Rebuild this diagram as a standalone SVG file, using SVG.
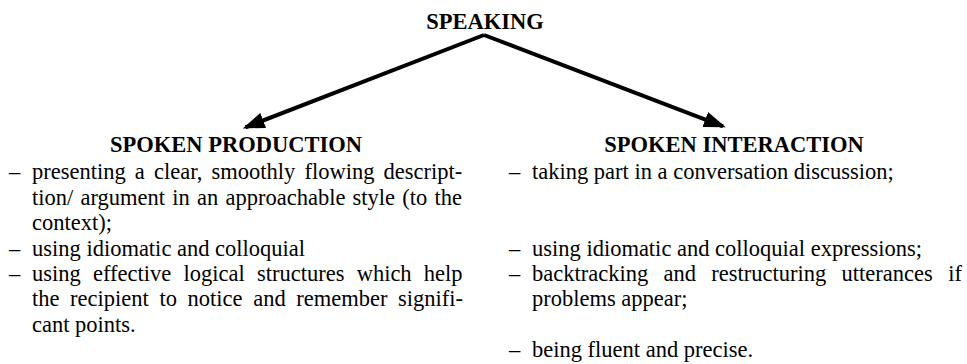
<svg xmlns="http://www.w3.org/2000/svg" width="967" height="364" viewBox="0 0 967 364">
<style>
text{font-family:"Liberation Serif","Times New Roman",serif;font-size:22.5px;fill:#000}
.h{font-weight:bold;text-anchor:middle}
.c{stroke:#000;stroke-width:4;fill:none}
</style>
<defs>
<marker id="arr" markerUnits="userSpaceOnUse" markerWidth="22" markerHeight="16" viewBox="0 0 22 16" refX="19" refY="8" orient="auto">
<path d="M0,0 L22,8 L0,16 Z" fill="#000"/>
</marker>
</defs>
<rect width="967" height="364" fill="#fff"/>
<g id="connectors">
<path class="c" d="M484,35 L245.5,127.3" marker-end="url(#arr)"/>
<path class="c" d="M484,35 L723,126.3" marker-end="url(#arr)"/>
</g>
<g id="speaking">
<text class="h" x="485" y="29">SPEAKING</text>
</g>
<g id="spoken-production">
<text class="h" x="236" y="152">SPOKEN PRODUCTION</text>
<text x="9" y="179">–</text>
<text x="32" y="179" word-spacing="3.5">presenting a clear, smoothly flowing descript-</text>
<text x="32" y="204.5" word-spacing="1.6">tion/ argument in an approachable style (to the</text>
<text x="32" y="230">context);</text>
<text x="9" y="255.5">–</text>
<text x="32" y="255.5">using idiomatic and colloquial</text>
<text x="9" y="281">–</text>
<text x="32" y="281" word-spacing="6.6">using effective logical structures which help</text>
<text x="32" y="306" word-spacing="5">the recipient to notice and remember signifi-</text>
<text x="32" y="331.5">cant points.</text>
</g>
<g id="spoken-interaction">
<text class="h" x="734" y="152">SPOKEN INTERACTION</text>
<text x="509" y="179">–</text>
<text x="532" y="179">taking part in a conversation discussion;</text>
<text x="509" y="255.5">–</text>
<text x="532" y="255.5">using idiomatic and colloquial expressions;</text>
<text x="509" y="281">–</text>
<text x="532" y="281" word-spacing="9.7">backtracking and restructuring utterances if</text>
<text x="532" y="306">problems appear;</text>
<text x="509" y="357">–</text>
<text x="532" y="357">being fluent and precise.</text>
</g>
</svg>
